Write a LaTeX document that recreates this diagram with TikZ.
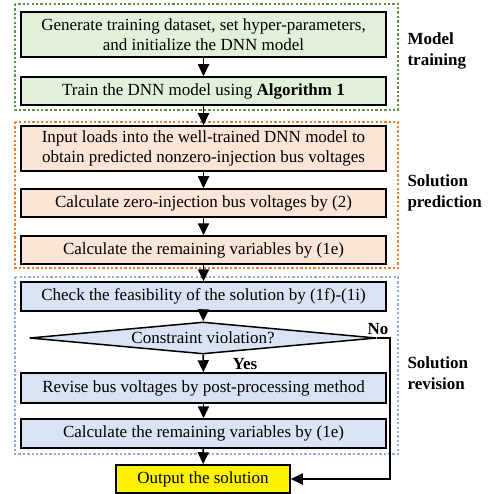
\documentclass[tikz,border=0pt]{standalone}
\usepackage{fontspec}
\setmainfont{Liberation Serif}
\usepackage{tikz}
\usetikzlibrary{arrows.meta}
\usetikzlibrary{shapes.geometric}
\definecolor{trainfill}{HTML}{E2F0D9}
\definecolor{predfill}{HTML}{FBE5D6}
\definecolor{revfill}{HTML}{DAE3F3}
\definecolor{trainline}{HTML}{5B9A3C}
\definecolor{predline}{HTML}{ED7D31}
\definecolor{revline}{HTML}{8FAADC}

\begin{document}
\begin{tikzpicture} [
    x=1pt, y=-1pt,                  % pixel-like units, top-to-bottom
    font=\fontsize{17}{20}\selectfont,
    ]
% -------------------------------------------------
\tikzset{
  base/.style={draw, line width=1.5pt, align=center, inner sep=0pt},
  rect/.style={base, rectangle, minimum width=365pt},
  line/.style={draw, line width=1.8pt, -{Triangle[width=11pt,length=12pt]}},
  frame/.style={line width=2.6pt, dash pattern=on 2.3pt off 2.1pt},
  lbl/.style={font=\fontsize{17}{21}\selectfont\bfseries, align=left, anchor=west}
}
    \useasboundingbox (0,0) rectangle (489,494);

    \draw[frame, trainline] (15,4) rectangle (398,110);            % frame: model training
    \draw[frame, predline] (15,122) rectangle (398,268);           % frame: solution prediction
    \draw[frame, revline] (15,277) rectangle (398,454);            % frame: solution revision

    \node [rect, minimum height=45pt, fill=trainfill] (gen) at (203.5,34.5) {Generate training dataset, set hyper-parameters,\\and initialize the DNN model};
    \node [rect, minimum height=28pt, fill=trainfill] (trn) at (203.5,91) {Train the DNN model using \textbf{Algorithm 1}};

    \node [rect, minimum height=45pt, fill=predfill] (inp) at (203.5,148.5) {Input loads into the well-trained DNN model to\\obtain predicted nonzero-injection bus voltages};
    \node [rect, minimum height=28pt, fill=predfill] (zib) at (203.5,203) {Calculate zero-injection bus voltages by (2)};
    \node [rect, minimum height=28pt, fill=predfill] (rem) at (203.5,250) {Calculate the remaining variables by (1e)};

    \node [rect, minimum height=29pt, fill=revfill] (chk) at (203.5,296.5) {Check the feasibility of the solution by (1f)-(1i)};
    \node [base, diamond, aspect=11, minimum width=347pt, minimum height=32pt, fill=revfill] (vio) at (203,338) {Constraint violation?};
    \node [rect, minimum height=30pt, fill=revfill] (rev) at (203.5,388) {Revise bus voltages by post-processing method};
    \node [rect, minimum height=29pt, fill=revfill] (rem2) at (203.5,433.5) {Calculate the remaining variables by (1e)};

    \node [base, rectangle, minimum width=174pt, minimum height=28pt, fill=yellow] (out) at (203,479) {Output the solution};

    \node [lbl] (lmod) at (404,51) {Model\\training};
    \node [lbl] (lpred) at (404,193) {Solution\\prediction};
    \node [lbl] (lrev) at (404,373) {Solution\\revision};
    \node [font=\fontsize{17}{20}\selectfont\bfseries] (yes) at (245,364) {Yes};
    \node [font=\fontsize{17}{20}\selectfont\bfseries] (no) at (378,329) {No};

    \coordinate (nocorner) at (390,338);

    \path [line] (gen) -- (trn);
    \path [line] (trn) -- (inp);
    \path [line] (inp) -- (zib);
    \path [line] (zib) -- (rem);
    \path [line] (rem) -- (chk);
    \path [line] (chk) -- (vio);
    \path [line] (vio) -- (rev);
    \path [line] (rev) -- (rem2);
    \path [line] (rem2) -- (out);
    \path [line] (vio.east) -- (nocorner) |- (out.east);

\end{tikzpicture}
\end{document}
